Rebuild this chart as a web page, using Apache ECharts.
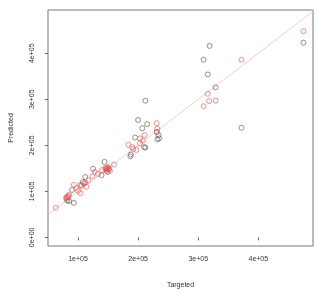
<!DOCTYPE html>
<html><head><meta charset="utf-8">
<script src="https://cdn.jsdelivr.net/npm/echarts@6/dist/echarts.min.js"></script>
<style>html,body{margin:0;padding:0;background:#fff}#c{width:317px;height:294px}</style>
</head><body><div id="c"></div>
<script>
// Red series (Targeted, Predicted)
const redPoints = [
  [63000, 64000],
  [80000, 86000],[82000, 88000],[84000, 90000],[81000, 84000],[83000, 87000],[85000, 92000],
  [93000, 114000],[97000, 107000],[104000, 96000],[100000, 101000],
  [106000, 112000],[110000, 117000],[112000, 120000],[117000, 124000],[114000, 110000],
  [124000, 133000],[128000, 142000],[133000, 138000],
  [140000, 146000],[145000, 150000],[148000, 147000],[150000, 153000],[152000, 149000],[153000, 144000],[147000, 145000],[149000, 151000],
  [160000, 158000],
  [184000, 201000],[190000, 196000],[192000, 192000],[197000, 190000],[203000, 204000],[203000, 215000],[211000, 222000],[208000, 210000],
  [231000, 248000],[232000, 236000],[231000, 229000],
  [309000, 285000],[316000, 312000],[318000, 296000],[329000, 297000],
  [372000, 386000],
  [475000, 448000]
];
// Black series (Targeted, Predicted)
const blackPoints = [
  [82000, 80000],[85000, 79000],[93000, 75000],[90000, 103000],
  [104000, 114000],[112000, 131000],[108000, 120000],
  [125000, 149000],[139000, 135000],[144000, 164000],[149000, 142000],[147000, 150000],[151000, 148000],
  [187000, 176000],[188000, 180000],[195000, 217000],[200000, 255000],[207000, 237000],[210000, 196000],[212000, 195000],[212000, 297000],[215000, 246000],[231000, 229000],[234000, 222000],[235000, 215000],[232000, 213000],
  [309000, 386000],[316000, 354000],[319000, 416000],[329000, 326000],[372000, 238000],
  [475000, 423000]
];
const identityLine = [[0, 0], [600000, 600000]];
const xTicks = [100000, 200000, 300000, 400000];
const yTicks = [0, 100000, 200000, 300000, 400000];
const xTickLabels = ['1e+05', '2e+05', '3e+05', '4e+05'];
const yTickLabels = ['0e+00', '1e+05', '2e+05', '3e+05', '4e+05'];

const chart = echarts.init(document.getElementById('c'), null, {renderer: 'canvas'});
const lblStyle = {fontFamily: 'Liberation Sans, Arial, sans-serif', fontSize: 7, color: '#333'};
chart.setOption({
  animation: false,
  grid: {left: 38, right: 4, top: 10, bottom: 39, show: true, borderColor: '#777', borderWidth: 1, backgroundColor: 'transparent'},
  xAxis: {
    type: 'value', min: 50000, max: 491000,
    name: 'Targeted', nameLocation: 'middle', nameGap: 36,
    nameTextStyle: lblStyle,
    axisLine: {show: false},
    splitLine: {show: false},
    axisTick: {show: true, length: 3, inside: false, customValues: xTicks, lineStyle: {color: '#666'}},
    axisLabel: Object.assign({customValues: xTicks, margin: 10,
      formatter: v => xTickLabels[xTicks.indexOf(v)]}, lblStyle)
  },
  yAxis: {
    type: 'value', min: -18800, max: 494000,
    name: 'Predicted', nameLocation: 'middle', nameGap: 33, nameRotate: 90,
    nameTextStyle: lblStyle,
    axisLine: {show: false},
    splitLine: {show: false},
    axisTick: {show: true, length: 3, inside: false, customValues: yTicks, lineStyle: {color: '#666'}},
    axisLabel: Object.assign({customValues: yTicks, margin: 12, rotate: 90,
      formatter: v => yTickLabels[yTicks.indexOf(v)]}, lblStyle)
  },
  series: [
    {type: 'line', data: identityLine, symbol: 'none', silent: true, clip: true,
     lineStyle: {color: '#e6c4c4', width: 0.8}, z: 1},
    {type: 'scatter', data: blackPoints, symbol: 'circle', symbolSize: 5,
     itemStyle: {color: 'rgba(0,0,0,0)', borderColor: '#555', borderWidth: 0.8}, z: 2},
    {type: 'scatter', data: redPoints, symbol: 'circle', symbolSize: 5,
     itemStyle: {color: 'rgba(0,0,0,0)', borderColor: '#e85050', borderWidth: 0.8}, z: 3}
  ]
});
</script></body></html>
